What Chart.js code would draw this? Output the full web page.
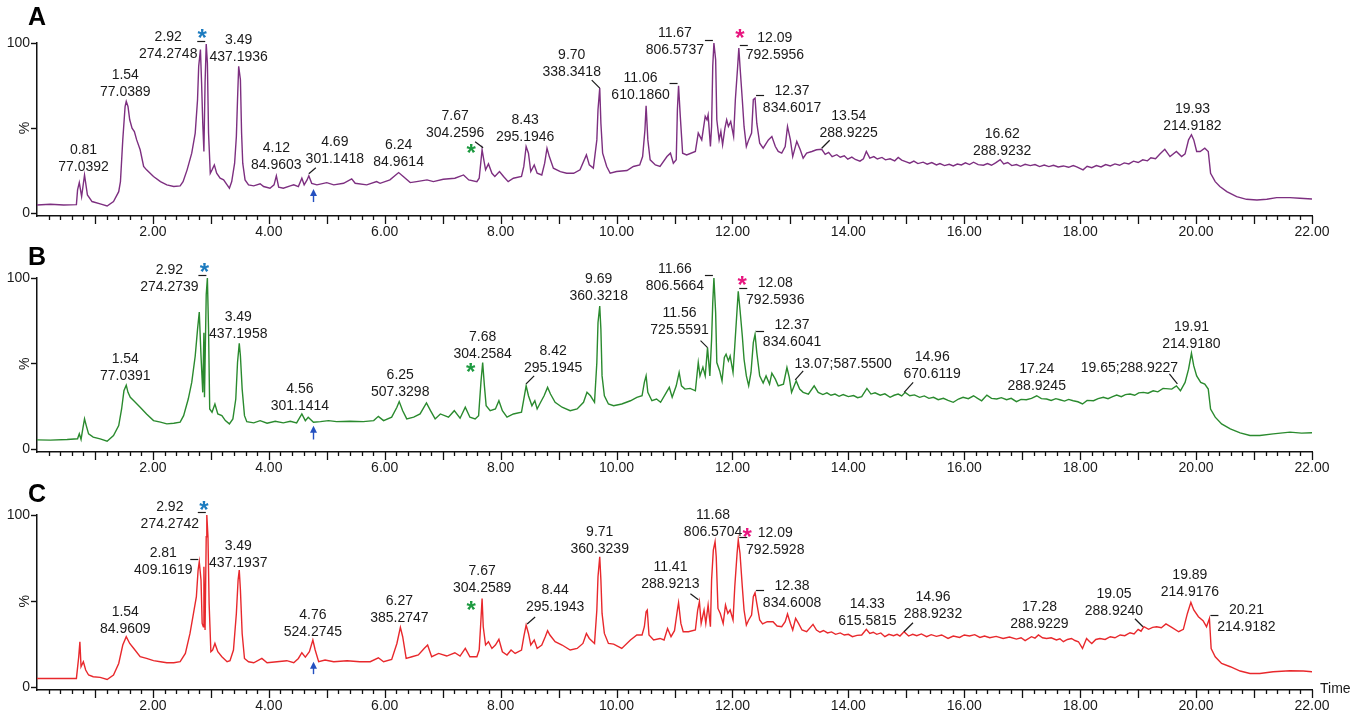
<!DOCTYPE html>
<html>
<head>
<meta charset="utf-8">
<script src="https://cdn.jsdelivr.net/npm/chart.js@4.4.1/dist/chart.umd.min.js"></script>
<style>
  body{margin:0;background:#fff;width:1358px;height:718px;overflow:hidden;position:relative}
  canvas{position:absolute;left:0}
</style>
</head>
<body>
<canvas id="cA" width="1358" height="240" style="top:0px"></canvas>
<canvas id="cB" width="1358" height="241" style="top:235px"></canvas>
<canvas id="cC" width="1358" height="242" style="top:472px"></canvas>
<script>
// retention time (min) and relative intensity (%)
const timeA = [0.00,0.23,0.46,0.68,0.70,0.73,0.77,0.82,0.87,0.95,1.09,1.21,1.32,1.41,1.44,1.48,1.52,1.54,1.57,1.60,1.64,1.68,1.72,1.78,1.84,1.89,2.01,2.13,2.24,2.36,2.47,2.52,2.59,2.67,2.73,2.77,2.79,2.82,2.84,2.86,2.88,2.90,2.92,2.94,2.96,2.99,3.02,3.06,3.10,3.16,3.22,3.28,3.32,3.36,3.41,3.44,3.46,3.48,3.51,3.53,3.55,3.59,3.65,3.74,3.85,3.91,4.02,4.09,4.13,4.17,4.25,4.37,4.43,4.51,4.57,4.61,4.66,4.69,4.74,4.83,5.00,5.12,5.29,5.43,5.49,5.69,5.86,5.92,6.09,6.24,6.32,6.44,6.55,6.73,6.84,7.01,7.21,7.36,7.45,7.59,7.63,7.68,7.70,7.74,7.79,7.85,7.90,7.98,8.05,8.13,8.22,8.36,8.40,8.44,8.48,8.52,8.58,8.63,8.71,8.76,8.80,8.84,8.91,9.03,9.14,9.26,9.37,9.48,9.53,9.60,9.66,9.68,9.71,9.73,9.76,9.83,9.89,10.00,10.18,10.29,10.40,10.45,10.49,10.51,10.54,10.58,10.67,10.75,10.87,10.93,10.98,11.03,11.05,11.07,11.10,11.14,11.21,11.36,11.41,11.47,11.53,11.56,11.58,11.62,11.64,11.66,11.68,11.71,11.73,11.77,11.80,11.83,11.87,11.90,11.93,11.97,12.02,12.05,12.09,12.11,12.13,12.17,12.20,12.24,12.28,12.33,12.36,12.39,12.42,12.47,12.53,12.62,12.68,12.74,12.79,12.85,12.91,12.95,13.00,13.04,13.11,13.17,13.22,13.28,13.37,13.45,
  13.54,13.60,13.66,13.72,13.80,13.86,13.93,13.99,14.06,14.12,14.20,14.26,14.31,14.37,14.44,14.50,14.58,14.64,14.72,14.80,14.86,14.92,15.00,15.06,15.13,15.20,15.29,15.36,15.44,15.52,15.58,15.66,15.74,15.81,15.88,15.95,16.02,16.09,16.16,16.24,16.33,16.40,16.47,16.54,16.62,16.68,16.75,16.82,16.90,16.97,17.05,17.14,17.22,17.30,17.38,17.46,17.54,17.62,17.71,17.80,17.88,17.94,18.05,18.12,18.20,18.28,18.36,18.44,18.52,18.60,18.68,18.76,18.84,18.92,19.00,19.08,19.16,19.22,19.30,19.38,
  19.46,19.55,19.66,19.75,19.81,19.87,19.92,19.96,20.01,20.07,20.15,20.21,20.25,20.33,20.41,20.53,20.70,20.87,21.05,21.22,21.39,21.62,21.79,22.00];
const intA = [4.9,5.3,4.9,5.1,13.7,18.0,9.8,22.5,10.8,6.9,5.5,4.3,6.9,12.7,18.6,43.1,62.7,65.7,62.7,54.9,50.0,48.0,43.1,37.3,27.5,25.5,21.6,18.6,16.7,15.7,16.1,18.6,25.5,35.3,47.1,66.7,86.3,96.1,76.5,52.9,36.3,76.5,99.4,88.2,47.1,23.5,25.5,28.4,23.5,20.6,19.6,16.7,14.7,18.6,29.4,45.1,66.7,86.3,78.4,47.1,29.4,19.6,16.7,16.1,17.3,15.7,14.7,16.7,22.0,15.3,14.7,16.1,16.7,15.7,20.6,16.7,19.6,22.0,17.6,16.7,18.0,16.7,17.6,20.2,17.6,16.7,18.6,17.6,19.6,23.9,21.6,18.0,18.6,19.6,18.6,20.0,20.6,22.5,19.6,18.6,20.6,37.3,33.3,25.5,29.0,23.5,21.6,24.5,21.6,18.6,20.6,21.6,27.5,39.2,35.3,24.5,28.4,23.5,22.5,29.4,38.2,33.3,26.5,24.5,23.5,23.5,25.5,34.3,28.4,26.5,43.1,60.8,73.5,52.9,35.3,27.5,23.5,24.5,25.1,27.5,28.4,33.3,49.0,63.1,43.1,31.4,28.4,27.5,33.3,35.3,29.4,31.4,60.8,74.9,56.9,35.3,34.3,36.3,47.1,43.1,56.9,54.9,57.8,39.2,51.0,86.3,100,90.2,54.9,43.1,48.0,40.2,50.0,54.9,51.0,53.9,45.1,66.7,86.3,97.1,86.3,66.7,51.0,39.2,43.1,47.1,66.7,67.6,52.9,41.2,38.2,43.1,45.1,39.2,36.3,35.3,39.2,51.0,43.1,33.3,42.2,37.3,32.4,35.3,36.3,37.3,
  37.6,34.6,35.8,33.3,34.4,32.9,33.8,31.8,33.0,31.6,30.6,32.0,36.3,32.4,33.3,31.9,32.8,31.4,32.0,30.8,32.8,31.2,30.2,29.4,30.6,29.2,30.0,28.8,29.8,28.4,29.2,28.0,28.8,27.8,28.9,28.4,29.6,28.6,30.0,28.6,28.2,29.2,28.2,29.6,31.5,29.0,29.8,28.0,28.6,27.6,28.8,28.0,28.6,27.4,28.3,27.4,28.2,27.2,27.8,27.0,28.0,27.3,25.5,27.6,26.8,28.0,27.2,28.6,27.8,29.0,28.2,29.6,29.0,30.6,29.8,31.4,30.8,32.6,32.0,34.9,
  37.6,33.3,36.3,33.3,34.9,43.1,46.1,43.1,36.3,36.3,38.2,36.3,23.5,18.6,15.7,12.7,9.8,8.2,7.8,8.2,9.2,9.2,8.8,8.4];

const timeB = [0.00,0.23,0.52,0.70,0.73,0.76,0.79,0.82,0.85,0.89,0.97,1.09,1.21,1.32,1.41,1.46,1.50,1.54,1.57,1.61,1.67,1.78,1.89,2.01,2.13,2.24,2.36,2.47,2.53,2.61,2.67,2.73,2.77,2.80,2.83,2.86,2.88,2.89,2.92,2.94,2.96,2.98,3.02,3.07,3.12,3.19,3.25,3.32,3.38,3.43,3.46,3.49,3.51,3.54,3.58,3.62,3.74,3.85,3.97,4.11,4.25,4.37,4.48,4.57,4.63,4.68,4.77,4.89,5.03,5.17,5.40,5.63,5.81,5.89,5.98,6.12,6.21,6.25,6.31,6.38,6.50,6.61,6.72,6.79,6.87,6.96,7.10,7.20,7.30,7.39,7.47,7.56,7.62,7.66,7.69,7.72,7.75,7.82,7.91,7.97,8.03,8.11,8.22,8.36,8.40,8.44,8.48,8.54,8.59,8.63,8.69,8.75,8.81,8.86,8.94,9.06,9.20,9.32,9.43,9.49,9.55,9.62,9.66,9.68,9.71,9.73,9.75,9.79,9.86,9.95,10.09,10.24,10.35,10.44,10.48,10.51,10.54,10.61,10.69,10.76,10.86,10.91,10.96,11.03,11.08,11.12,11.18,11.27,11.36,11.41,11.44,11.49,11.53,11.57,11.61,11.64,11.66,11.68,11.71,11.73,11.78,11.82,11.86,11.89,11.93,11.96,12.01,12.04,12.08,12.10,12.13,12.17,12.20,12.24,12.28,12.32,12.36,12.39,12.42,12.47,12.53,12.58,12.64,12.68,12.74,12.79,12.88,12.94,12.98,13.02,13.10,13.16,13.22,13.31,13.41,
  13.48,13.56,13.63,13.70,13.77,13.84,13.91,14.00,14.09,14.16,14.23,14.32,14.39,14.46,14.55,14.63,14.72,14.79,14.86,14.92,14.98,15.06,15.14,15.23,15.31,15.39,15.47,15.55,15.64,15.72,15.81,15.90,15.98,16.07,16.16,16.23,16.30,16.39,16.47,16.56,16.64,16.73,16.81,16.90,16.98,17.07,17.16,17.25,17.33,17.42,17.50,17.58,17.65,17.73,17.80,17.88,17.96,18.04,18.12,18.23,18.31,18.40,18.48,18.56,18.63,18.71,18.78,18.86,18.94,19.01,19.09,19.17,19.26,19.34,19.43,
  19.58,19.66,19.73,19.81,19.87,19.92,19.96,20.01,20.08,20.15,20.21,20.25,20.33,20.44,20.59,20.76,20.93,21.10,21.33,21.62,21.82,22.00];
const intB = [5.6,5.4,5.8,6.2,9.1,5.8,12.0,17.8,13.9,9.1,7.2,6.2,4.8,8.1,13.9,23.6,34.2,37.5,33.3,30.4,28.4,24.6,20.7,16.8,15.9,14.9,15.3,15.9,19.7,29.4,39.1,54.5,70.0,80.1,54.5,33.3,68.1,30.4,90.3,100,70.0,23.6,21.7,26.5,20.7,19.7,16.8,14.9,17.8,29.4,50.7,61.9,54.5,35.2,19.7,16.2,15.5,16.8,15.3,16.4,15.5,16.4,15.5,20.7,16.8,18.8,15.9,16.2,16.8,16.2,16.4,16.2,16.8,19.3,16.8,18.8,24.6,27.9,22.6,17.8,18.8,20.7,27.1,22.6,17.8,20.7,18.8,22.6,18.2,24.6,18.8,17.8,19.7,39.1,50.7,37.1,25.5,22.6,23.6,28.4,22.6,18.8,20.7,21.7,29.4,37.1,31.3,25.5,28.4,23.6,27.5,31.3,36.2,32.3,27.5,24.6,22.6,23.6,27.5,33.3,31.3,27.5,50.7,73.9,83.6,70.0,42.9,31.3,26.5,25.5,26.5,28.4,30.4,31.3,39.1,42.9,33.3,28.4,29.4,27.5,33.3,36.2,30.4,37.1,44.9,37.1,35.2,35.6,34.2,50.7,42.9,48.0,42.9,59.4,42.9,64.2,85.5,100,79.7,50.7,45.8,40.0,53.6,55.5,51.6,54.5,44.9,60.3,81.6,92.3,81.6,66.2,52.6,42.9,37.1,44.9,62.3,67.1,56.5,42.9,38.7,42.9,38.1,44.5,41.0,37.1,38.1,47.8,42.0,33.3,40.0,35.2,33.3,32.3,37.1,
  33.3,32.0,33.0,31.6,32.3,31.0,32.0,30.8,31.4,30.2,30.8,35.6,32.3,33.0,31.6,32.4,30.4,31.6,32.3,31.2,33.3,31.3,31.8,30.4,31.2,29.8,30.4,29.0,29.8,28.6,27.5,29.4,30.4,29.6,31.3,29.8,28.4,31.7,29.8,29.4,30.2,29.0,29.8,27.9,29.2,29.0,29.8,31.3,29.6,29.4,28.6,29.6,29.0,28.2,29.2,28.4,27.8,26.5,28.6,28.4,29.6,30.4,29.6,30.8,31.7,30.8,32.0,32.3,31.6,33.0,33.3,32.8,34.2,33.6,35.6,
  35.2,37.1,34.2,39.1,46.8,56.1,48.7,42.9,39.1,38.1,35.2,23.6,18.8,14.9,12.0,9.7,8.1,8.1,9.1,10.1,9.5,9.7];

const timeC = [0.00,0.52,0.68,0.72,0.74,0.76,0.80,0.84,0.89,0.97,1.09,1.21,1.32,1.41,1.48,1.54,1.60,1.67,1.78,1.89,2.01,2.13,2.24,2.36,2.47,2.56,2.64,2.70,2.75,2.78,2.80,2.83,2.85,2.87,2.88,2.90,2.92,2.93,2.95,2.97,3.00,3.03,3.07,3.12,3.19,3.28,3.33,3.39,3.44,3.47,3.49,3.51,3.54,3.58,3.65,3.74,3.88,3.97,4.14,4.31,4.43,4.51,4.57,4.63,4.70,4.76,4.80,4.86,4.97,5.12,5.35,5.57,5.75,5.89,5.98,6.12,6.21,6.27,6.31,6.37,6.47,6.58,6.68,6.74,6.81,6.93,7.07,7.21,7.30,7.39,7.47,7.59,7.63,7.66,7.68,7.70,7.74,7.79,7.85,7.91,7.97,8.03,8.11,8.18,8.25,8.36,8.40,8.44,8.48,8.52,8.58,8.63,8.71,8.77,8.81,8.85,8.94,9.06,9.20,9.32,9.42,9.48,9.53,9.62,9.66,9.68,9.71,9.73,9.75,9.79,9.86,9.95,10.09,10.24,10.35,10.44,10.48,10.51,10.53,10.56,10.64,10.75,10.82,10.88,10.94,11.00,11.05,11.07,11.11,11.15,11.24,11.36,11.40,11.43,11.46,11.51,11.54,11.58,11.62,11.64,11.67,11.70,11.72,11.75,11.79,11.84,11.88,11.92,11.96,12.01,12.04,12.08,12.10,12.13,12.17,12.20,12.24,12.28,12.33,12.36,12.39,12.42,12.47,12.52,12.60,12.70,12.77,12.85,12.91,12.95,13.00,13.04,13.09,13.14,13.20,13.28,13.39,
  13.45,13.51,13.57,13.64,13.71,13.78,13.86,13.93,14.00,14.07,14.15,14.23,14.31,14.37,14.43,14.49,14.56,14.63,14.70,14.78,14.84,14.89,14.96,15.04,15.11,15.18,15.26,15.35,15.43,15.52,15.61,15.72,15.81,15.92,16.00,16.09,16.18,16.27,16.35,16.44,16.55,16.67,16.78,16.90,16.98,17.05,17.16,17.22,17.28,17.35,17.42,17.50,17.59,17.65,17.71,17.78,17.85,17.91,17.97,18.04,18.11,18.16,18.20,18.27,18.34,18.43,18.52,18.60,18.69,18.77,18.86,18.93,19.00,19.05,19.10,19.18,19.25,19.32,19.40,19.48,
  19.58,19.70,19.78,19.85,19.91,19.96,20.04,20.12,20.18,20.23,20.26,20.33,20.44,20.59,20.76,20.93,21.10,21.33,21.62,21.85,22.00];
const intC = [5.2,5.2,5.2,17.8,26.5,12.0,14.9,10.1,7.2,6.2,5.8,4.6,7.2,13.9,24.6,29.4,25.5,22.6,17.8,16.8,15.5,14.9,14.3,14.3,14.9,19.7,31.3,42.9,52.6,68.1,72.9,62.3,37.1,35.2,70.0,33.3,87.4,100,87.4,48.7,20.7,21.7,25.5,20.7,17.8,14.9,15.5,21.7,42.9,62.3,68.1,56.5,31.3,16.8,14.9,14.3,16.8,14.3,14.9,15.5,14.3,16.8,20.1,17.6,20.7,27.5,21.7,14.9,15.9,14.9,15.5,14.9,14.9,17.2,14.9,16.2,25.5,34.8,29.4,16.8,17.8,18.8,22.6,24.6,17.8,19.7,18.2,20.1,18.2,22.6,17.8,17.8,21.7,39.1,51.6,35.2,24.6,26.5,22.6,24.6,27.9,20.7,18.8,21.7,19.7,21.7,29.4,36.2,31.3,24.6,27.5,22.6,24.6,29.4,32.9,30.4,26.5,24.6,21.7,22.6,25.5,31.3,28.4,25.5,44.9,64.2,75.8,62.3,42.9,31.3,25.5,25.1,22.6,27.5,30.4,30.4,35.2,43.9,44.9,30.4,27.5,28.4,27.5,34.2,29.4,32.9,44.9,49.1,37.1,32.3,32.3,33.3,44.9,49.7,37.1,44.9,37.1,47.8,35.2,62.3,79.7,84.5,75.8,45.8,42.9,37.1,47.8,42.9,44.9,39.1,58.4,77.8,85.5,77.8,58.4,44.9,36.2,39.1,42.0,52.6,54.9,48.7,39.1,36.8,38.1,38.1,35.6,35.2,38.1,42.6,37.1,33.3,40.0,37.1,33.3,32.3,36.6,
  33.3,32.0,33.0,31.6,32.2,30.8,31.6,30.4,30.8,29.4,30.2,30.4,33.7,31.3,32.0,30.8,31.6,29.4,30.8,30.0,30.8,29.8,32.3,29.8,30.8,30.0,31.0,29.4,30.6,29.6,30.4,28.4,29.8,29.0,30.4,29.8,30.6,29.0,29.8,28.8,29.6,28.4,29.2,28.0,28.8,27.1,29.4,28.6,30.4,28.8,28.4,28.8,27.5,28.2,26.5,27.8,28.4,27.2,26.5,22.6,28.4,26.6,25.5,27.8,28.4,27.8,29.4,28.8,30.4,30.0,31.7,31.0,33.7,32.6,35.2,33.7,34.8,35.2,34.6,36.8,
  34.8,32.3,33.7,42.9,49.3,44.9,41.0,38.7,35.2,40.0,22.6,17.8,13.9,12.0,9.5,8.1,8.1,9.1,9.7,9.5,9.1];

const xTicks = [0, 22, 2];          // min, max, labelled step
const yTickValues = [0, 50, 100];

// peak annotations: t = time of the marked point, text = printed lines,
// dx/dy = label offset in px, l = leader line, br = side bracket, star = asterisk
const notesA = [
  {t:0.82, text:["0.81","77.0392"], dx:-1, dy:-8},
  {t:1.54, text:["1.54","77.0389"], dx:-1, dy:-9},
  {t:2.92, text:["2.92","274.2748"], dx:-38, dy:10, br:"L", star:"blue", sx:-4, sy:-11},
  {t:3.48, text:["3.49","437.1936"], dx:0, dy:-9},
  {t:4.13, text:["4.12","84.9603"], dx:0, dy:-11},
  {t:4.69, text:["4.69","301.1418"], dx:26, dy:-17, l:[0,-2,7,-8]},
  {t:6.24, text:["6.24","84.9614"], dx:0, dy:-10},
  {t:7.68, text:["7.67","304.2596"], dx:-27, dy:-17, l:[-7,-8,1,-2], star:"green", sx:-11, sy:-2},
  {t:8.44, text:["8.43","295.1946"], dx:-1, dy:-9},
  {t:9.71, text:["9.70","338.3418"], dx:-28, dy:-16, l:[-8,-8,0,0]},
  {t:11.07, text:["11.06","610.1860"], dx:-38, dy:9, br:"L"},
  {t:11.68, text:["11.67","806.5737"], dx:-39, dy:7, br:"L"},
  {t:12.11, text:["12.09","792.5956"], dx:36, dy:7, br:"R", star:"pink", sx:1, sy:-15},
  {t:12.39, text:["12.37","834.6017"], dx:37, dy:10, br:"R"},
  {t:13.54, text:["13.54","288.9225"], dx:27, dy:-16, l:[0,-1,8,-9]},
  {t:16.62, text:["16.62","288.9232"], dx:2, dy:-8},
  {t:19.92, text:["19.93","214.9182"], dx:1, dy:-9}
];
const notesB = [
  {t:1.54, text:["1.54","77.0391"], dx:-1, dy:-9},
  {t:2.94, text:["2.92","274.2739"], dx:-38, dy:9, br:"L", star:"blue", sx:-3, sy:-11},
  {t:3.49, text:["3.49","437.1958"], dx:-1, dy:-9},
  {t:4.57, text:["4.56","301.1414"], dx:-2, dy:-8},
  {t:6.25, text:["6.25","507.3298"], dx:1, dy:-9},
  {t:7.69, text:["7.68","304.2584"], dx:0, dy:-8, star:"green", sx:-12, sy:4},
  {t:8.44, text:["8.42","295.1945"], dx:27, dy:-18, l:[0,-2,8,-10]},
  {t:9.71, text:["9.69","360.3218"], dx:-1, dy:-10},
  {t:11.57, text:["11.56","725.5591"], dx:-28, dy:-17, l:[-7,-7,0,0]},
  {t:11.68, text:["11.66","806.5664"], dx:-39, dy:8, br:"L"},
  {t:12.10, text:["12.08","792.5936"], dx:37, dy:9, br:"R", star:"pink", sx:4, sy:-11},
  {t:12.39, text:["12.37","834.6041"], dx:37, dy:8, br:"R"},
  {t:13.10, text:["13.07;587.5500"], dx:47, dy:-17, l:[-1,-1,7,-10]},
  {t:14.98, text:["14.96","670.6119"], dx:27, dy:-18, l:[-1,0,8,-10]},
  {t:17.25, text:["17.24","288.9245"], dx:0, dy:-10},
  {t:19.66, text:["19.65;288.9227"], dx:-47, dy:-18, l:[-7,-12,1,-2]},
  {t:19.92, text:["19.91","214.9180"], dx:0, dy:-9}
];
const notesC = [
  {t:1.54, text:["1.54","84.9609"], dx:-1, dy:-8},
  {t:2.93, text:["2.92","274.2742"], dx:-37, dy:9, br:"L", star:"blue", sx:-3, sy:-10},
  {t:2.80, text:["2.81","409.1619"], dx:-36, dy:8, br:"L"},
  {t:3.49, text:["3.49","437.1937"], dx:-1, dy:-7},
  {t:4.76, text:["4.76","524.2745"], dx:0, dy:-8},
  {t:6.27, text:["6.27","385.2747"], dx:-1, dy:-9},
  {t:7.68, text:["7.67","304.2589"], dx:0, dy:-10, star:"green", sx:-11, sy:7},
  {t:8.44, text:["8.44","295.1943"], dx:29, dy:-18, l:[1,-1,9,-8]},
  {t:9.71, text:["9.71","360.3239"], dx:0, dy:-8},
  {t:11.43, text:["11.41","288.9213"], dx:-29, dy:-18, l:[-9,-8,-1,-2]},
  {t:11.70, text:["11.68","806.5704"], dx:-2, dy:-10},
  {t:12.10, text:["12.09","792.5928"], dx:37, dy:10, br:"R", star:"pink", sx:9, sy:-8},
  {t:12.39, text:["12.38","834.6008"], dx:37, dy:10, br:"R"},
  {t:14.31, text:["14.33","615.5815"], dx:1, dy:-8},
  {t:14.96, text:["14.96","288.9232"], dx:29, dy:-18, l:[0,0,9,-9]},
  {t:17.28, text:["17.28","288.9229"], dx:1, dy:-11},
  {t:19.10, text:["19.05","288.9240"], dx:-30, dy:-16, l:[-9,-8,-1,0]},
  {t:19.91, text:["19.89","214.9176"], dx:-1, dy:-10},
  {t:20.23, text:["20.21","214.9182"], dx:37, dy:9, br:"R"}
];
// small blue arrows: time, tail and head in % units
const arrowA = [4.77, 6.6, 13.7];
const arrowB = [4.77, 5.8, 13.2];
const arrowC = [4.76, 7.7, 14.3];

const FONT = '"Liberation Sans", Arial, sans-serif';
const INK = "#1a1a1a";
const starColor = {blue:"#1c7bbf", pink:"#e8167f", green:"#1d9a40"};

Chart.defaults.font.family = FONT;
Chart.defaults.color = INK;

function nearest(data, t){
  let best = data[0];
  for (const p of data) if (Math.abs(p.x - t) < Math.abs(best.x - t)) best = p;
  return best;
}

function makeMarks(panel){
  return {
    id: "marks" + panel.letter,
    afterDraw(chart){
      const {ctx, chartArea:a, scales:{x, y}} = chart;
      const data = chart.data.datasets[0].data;
      ctx.save();

      // minor ticks every 0.2 min, longer every 1 min
      ctx.strokeStyle = "#111";
      ctx.lineWidth = 1.3;
      ctx.beginPath();
      for (let i = 1; i <= 110; i++){
        const px = Math.round(x.getPixelForValue(i / 5)) + 0.5;
        ctx.moveTo(px, a.bottom);
        ctx.lineTo(px, a.bottom + (i % 5 === 0 ? 8 : 4));
      }
      ctx.stroke();

      ctx.fillStyle = "#000";
      ctx.font = "bold 25px " + FONT;
      ctx.textAlign = "left";
      ctx.textBaseline = "alphabetic";
      ctx.fillText(panel.letter, 28, a.top + panel.letterDy);

      ctx.fillStyle = INK;
      ctx.font = "14px " + FONT;
      ctx.save();
      ctx.translate(25, y.getPixelForValue(50));
      ctx.rotate(-Math.PI / 2);
      ctx.textAlign = "center";
      ctx.textBaseline = "middle";
      ctx.fillText("%", 0, 0);
      ctx.restore();

      if (panel.time){
        ctx.textAlign = "left";
        ctx.textBaseline = "middle";
        ctx.fillText("Time", a.right + 8, a.bottom - 1);
      }

      ctx.textAlign = "center";
      ctx.textBaseline = "middle";
      ctx.strokeStyle = INK;
      ctx.lineWidth = 1.2;
      for (const n of panel.notes){
        const p = nearest(data, n.t);
        const px = x.getPixelForValue(p.x), py = y.getPixelForValue(p.y);
        const lx = px + n.dx, ly = py + n.dy;
        n.text.forEach((s, i) => ctx.fillText(s, lx, ly - (n.text.length - 1 - i) * 17));
        if (n.l){
          ctx.beginPath();
          ctx.moveTo(px + n.l[0], py + n.l[1]);
          ctx.lineTo(px + n.l[2], py + n.l[3]);
          ctx.stroke();
        }
        if (n.br){
          const by = Math.round(py - 3) + 0.5;
          ctx.beginPath();
          if (n.br === "L"){ ctx.moveTo(px - 9, by); ctx.lineTo(px - 1, by); }
          else { ctx.moveTo(px + 1, by); ctx.lineTo(px + 9, by); }
          ctx.stroke();
        }
        if (n.star){
          ctx.save();
          ctx.fillStyle = starColor[n.star];
          ctx.font = "bold 24px " + FONT;
          ctx.textBaseline = "alphabetic";
          ctx.fillText("*", px + n.sx, py + n.sy + 13);
          ctx.restore();
        }
      }

      const [at, a0, a1] = panel.arrow;
      const ax = Math.round(x.getPixelForValue(at)) + 0.5;
      const yt = y.getPixelForValue(a0), yh = y.getPixelForValue(a1);
      ctx.strokeStyle = ctx.fillStyle = "#2450c0";
      ctx.lineWidth = 1.4;
      ctx.beginPath();
      ctx.moveTo(ax, yt);
      ctx.lineTo(ax, yh + 4);
      ctx.stroke();
      ctx.beginPath();
      ctx.moveTo(ax, yh - 1);
      ctx.lineTo(ax - 3.5, yh + 6);
      ctx.lineTo(ax + 3.5, yh + 6);
      ctx.closePath();
      ctx.fill();

      ctx.restore();
    }
  };
}

function drawPanel(id, panel){
  const pts = panel.times.map((t, i) => ({x: t, y: panel.vals[i]}));
  new Chart(document.getElementById(id), {
    type: "line",
    data: {datasets: [{data: pts, borderColor: panel.color, borderWidth: 1.4,
      pointRadius: 0, tension: 0, fill: false}]},
    options: {
      responsive: false, animation: false, events: [],
      layout: {padding: {top: 43, right: 46, left: 0, bottom: 0}},
      plugins: {legend: {display: false}, tooltip: {enabled: false}},
      scales: {
        x: {
          type: "linear", min: xTicks[0], max: xTicks[1],
          afterFit(s){ s.height = 24; s.paddingLeft = 0; s.paddingRight = 0; },
          ticks: {stepSize: xTicks[2], autoSkip: false, maxRotation: 0, padding: 2,
            font: {size: 14}, color: INK,
            callback: v => v === 0 ? "" : v.toFixed(2)},
          grid: {drawOnChartArea: false, drawTicks: true, tickLength: 6, tickColor: "rgba(0,0,0,0)"},
          border: {color: "#111", width: 1.5}
        },
        y: {
          min: panel.ymin, max: 100,
          afterBuildTicks(s){ s.ticks = yTickValues.map(v => ({value: v})); },
          afterFit(s){ s.width = 37; s.paddingTop = 0; s.paddingBottom = 0; },
          ticks: {padding: 1, font: {size: 14}, color: INK,
            callback: v => v === 50 ? "" : String(v)},
          grid: {drawOnChartArea: false, tickLength: 6, tickColor: "#111", tickWidth: 1.4},
          border: {color: "#111", width: 1.5}
        }
      }
    },
    plugins: [makeMarks(panel)]
  });
}

drawPanel("cA", {letter: "A", letterDy: -18, color: "#7d2f80", times: timeA, vals: intA,
  notes: notesA, arrow: arrowA, ymin: -1.6});
drawPanel("cB", {letter: "B", letterDy: -13, color: "#2a8a2e", times: timeB, vals: intB,
  notes: notesB, arrow: arrowB, ymin: -1.5});
drawPanel("cC", {letter: "C", letterDy: -13, color: "#e8282c", times: timeC, vals: intC,
  notes: notesC, arrow: arrowC, ymin: -1.5, time: true});
</script>
</body>
</html>
